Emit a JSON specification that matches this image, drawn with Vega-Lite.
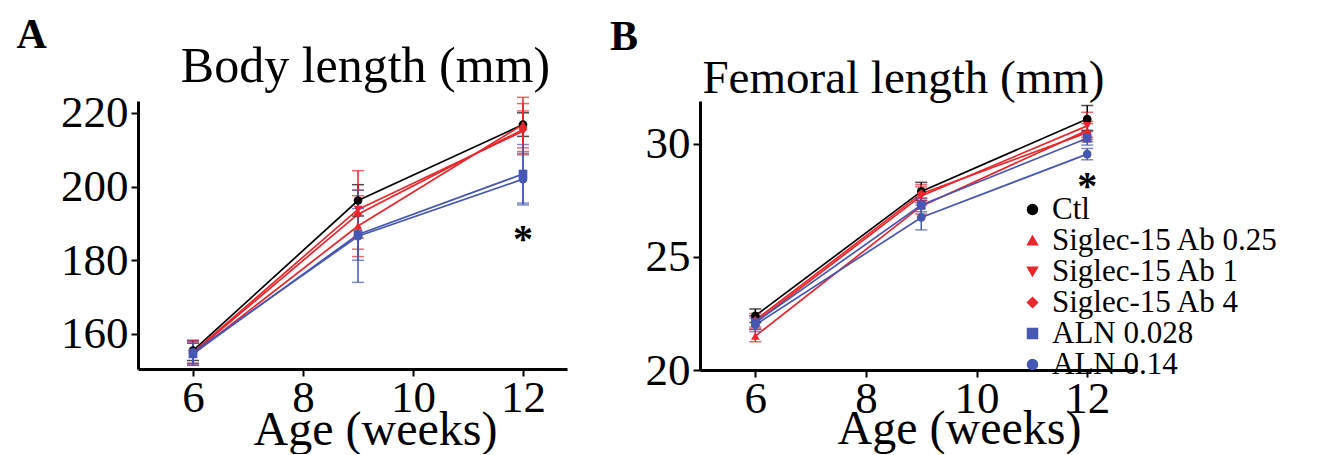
{
  "$schema": "https://vega.github.io/schema/vega-lite/v6.json",
  "background": "white",
  "padding": {"left": 16, "top": 14, "right": 0, "bottom": 0},
  "config": {
    "font": "Liberation Serif",
    "view": {"stroke": null},
    "axis": {
      "grid": false,
      "domainColor": "black",
      "domainWidth": 3,
      "tickColor": "black",
      "tickWidth": 2,
      "tickSize": 7,
      "labelFont": "Liberation Serif",
      "labelFontSize": 45,
      "labelColor": "black",
      "labelPadding": 3,
      "labelFlush": false,
      "labelOverlap": false,
      "titleFont": "Liberation Serif",
      "titleFontWeight": "normal",
      "titleColor": "black"
    },
    "axisX": {"labelPadding": -1},
    "legend": {
      "labelFont": "Liberation Serif",
      "labelFontSize": 31,
      "labelColor": "black",
      "labelLimit": 400,
      "rowPadding": -6,
      "symbolOpacity": 1
    }
  },
  "datasets": {
    "body": [
      {"group": "Ctl", "week": 6, "mean": 155.5, "lo": 152.8, "hi": 158.2},
      {"group": "Ctl", "week": 9, "mean": 196.2, "lo": 192.0, "hi": 200.5},
      {"group": "Ctl", "week": 12, "mean": 216.8, "lo": 213.6, "hi": 220.0},
      {"group": "Siglec-15 Ab 0.25", "week": 6, "mean": 154.5, "lo": 151.5, "hi": 157.5},
      {"group": "Siglec-15 Ab 0.25", "week": 9, "mean": 189.3, "lo": 181.0, "hi": 197.5},
      {"group": "Siglec-15 Ab 0.25", "week": 12, "mean": 216.8, "lo": 209.5, "hi": 224.2},
      {"group": "Siglec-15 Ab 1", "week": 6, "mean": 155.0, "lo": 152.0, "hi": 158.3},
      {"group": "Siglec-15 Ab 1", "week": 9, "mean": 193.8, "lo": 183.0, "hi": 204.3},
      {"group": "Siglec-15 Ab 1", "week": 12, "mean": 215.0, "lo": 208.6, "hi": 222.5},
      {"group": "Siglec-15 Ab 4", "week": 6, "mean": 154.8, "lo": 152.0, "hi": 157.5},
      {"group": "Siglec-15 Ab 4", "week": 9, "mean": 192.5, "lo": 186.0, "hi": 199.0},
      {"group": "Siglec-15 Ab 4", "week": 12, "mean": 215.5, "lo": 210.5, "hi": 220.5},
      {"group": "ALN 0.028", "week": 6, "mean": 154.6, "lo": 151.5, "hi": 157.5},
      {"group": "ALN 0.028", "week": 9, "mean": 187.0, "lo": 180.0, "hi": 194.0},
      {"group": "ALN 0.028", "week": 12, "mean": 203.4, "lo": 195.5, "hi": 211.4},
      {"group": "ALN 0.14", "week": 6, "mean": 155.0, "lo": 152.0, "hi": 158.0},
      {"group": "ALN 0.14", "week": 9, "mean": 186.5, "lo": 174.0, "hi": 199.0},
      {"group": "ALN 0.14", "week": 12, "mean": 202.0, "lo": 195.0, "hi": 209.0}
    ],
    "femur": [
      {"group": "Ctl", "week": 6, "mean": 22.4, "lo": 22.1, "hi": 22.7},
      {"group": "Ctl", "week": 9, "mean": 27.9, "lo": 27.5, "hi": 28.3},
      {"group": "Ctl", "week": 12, "mean": 31.1, "lo": 30.6, "hi": 31.7},
      {"group": "Siglec-15 Ab 0.25", "week": 6, "mean": 21.5, "lo": 21.25, "hi": 21.8},
      {"group": "Siglec-15 Ab 0.25", "week": 9, "mean": 27.25, "lo": 26.9, "hi": 27.6},
      {"group": "Siglec-15 Ab 0.25", "week": 12, "mean": 30.6, "lo": 30.2, "hi": 31.0},
      {"group": "Siglec-15 Ab 1", "week": 6, "mean": 22.1, "lo": 21.8, "hi": 22.4},
      {"group": "Siglec-15 Ab 1", "week": 9, "mean": 27.7, "lo": 27.4, "hi": 28.1},
      {"group": "Siglec-15 Ab 1", "week": 12, "mean": 30.8, "lo": 30.3, "hi": 31.4},
      {"group": "Siglec-15 Ab 4", "week": 6, "mean": 22.2, "lo": 21.9, "hi": 22.5},
      {"group": "Siglec-15 Ab 4", "week": 9, "mean": 27.8, "lo": 27.5, "hi": 28.2},
      {"group": "Siglec-15 Ab 4", "week": 12, "mean": 30.5, "lo": 30.1, "hi": 30.9},
      {"group": "ALN 0.028", "week": 6, "mean": 22.1, "lo": 21.8, "hi": 22.4},
      {"group": "ALN 0.028", "week": 9, "mean": 27.3, "lo": 27.0, "hi": 27.6},
      {"group": "ALN 0.028", "week": 12, "mean": 30.25, "lo": 29.95, "hi": 30.55},
      {"group": "ALN 0.14", "week": 6, "mean": 22.0, "lo": 21.7, "hi": 22.3},
      {"group": "ALN 0.14", "week": 9, "mean": 26.75, "lo": 26.2, "hi": 27.3},
      {"group": "ALN 0.14", "week": 12, "mean": 29.55, "lo": 29.3, "hi": 29.8}
    ]
  },
  "bounds": "flush",
  "spacing": 133,
  "resolve": {"legend": {"color": "independent", "shape": "independent"}},
  "hconcat": [
    {
      "width": 429,
      "height": 268,
      "title": {"text": "A", "anchor": "start", "frame": "bounds", "font": "Liberation Serif", "fontSize": 42, "fontWeight": "bold", "color": "black", "dx": -44, "offset": -16},
      "encoding": {
        "x": {
          "field": "week", "type": "quantitative",
          "scale": {"domain": [5, 12.8], "nice": false, "zero": false},
          "axis": {"values": [6, 8, 10, 12], "title": "Age (weeks)", "titleFontSize": 48, "titleX": 237, "titleY": 75, "titleAlign": "center", "titleBaseline": "alphabetic"}
        }
      },
      "layer": [
        {
          "data": {"name": "body"},
          "mark": {"type": "line", "strokeWidth": 1.7},
          "encoding": {
            "y": {
              "field": "mean", "type": "quantitative", "title": "Body length (mm)",
              "scale": {"domain": [150.5, 223.2], "nice": false, "zero": false},
              "axis": {"values": [160, 180, 200, 220], "title": "Body length (mm)", "titleAngle": 0, "titleFontSize": 50, "titleX": 227, "titleY": -20, "titleAlign": "center", "titleBaseline": "alphabetic"}
            },
            "color": {
              "field": "group", "type": "nominal",
              "scale": {"domain": ["Ctl", "Siglec-15 Ab 0.25", "Siglec-15 Ab 1", "Siglec-15 Ab 4", "ALN 0.028", "ALN 0.14"], "range": ["#000000", "#e8262b", "#e8262b", "#e8262b", "#4657b3", "#4657b3"]},
              "legend": null
            }
          }
        },
        {
          "data": {"name": "body"},
          "mark": {"type": "errorbar", "ticks": {"size": 12}, "thickness": 1.5},
          "encoding": {
            "y": {"field": "lo", "type": "quantitative", "title": "Body length (mm)"},
            "y2": {"field": "hi"},
            "color": {"field": "group", "type": "nominal", "legend": null}
          }
        },
        {
          "data": {"name": "body"},
          "mark": {"type": "point", "filled": true, "size": 75, "opacity": 1},
          "encoding": {
            "y": {"field": "mean", "type": "quantitative", "title": "Body length (mm)"},
            "color": {"field": "group", "type": "nominal", "legend": null},
            "shape": {
              "field": "group", "type": "nominal",
              "scale": {"domain": ["Ctl", "Siglec-15 Ab 0.25", "Siglec-15 Ab 1", "Siglec-15 Ab 4", "ALN 0.028", "ALN 0.14"], "range": ["circle", "triangle-up", "triangle-down", "diamond", "square", "circle"]},
              "legend": null
            }
          }
        },
        {
          "data": {"values": [{"week": 12, "v": 187.6, "t": "*"}]},
          "mark": {"type": "text", "font": "Liberation Serif", "fontSize": 40, "fontWeight": "bold", "baseline": "alphabetic", "dy": 20, "color": "black"},
          "encoding": {
            "y": {"field": "v", "type": "quantitative", "title": "Body length (mm)"},
            "text": {"field": "t"}
          }
        }
      ]
    },
    {
      "width": 437,
      "height": 269,
      "title": {"text": "B", "anchor": "start", "frame": "bounds", "font": "Liberation Serif", "fontSize": 42, "fontWeight": "bold", "color": "black", "dx": -35, "offset": -5},
      "encoding": {
        "x": {
          "field": "week", "type": "quantitative",
          "scale": {"domain": [5, 12.9], "nice": false, "zero": false},
          "axis": {"values": [6, 8, 10, 12], "title": "Age (weeks)", "titleFontSize": 48, "titleX": 259, "titleY": 73, "titleAlign": "center", "titleBaseline": "alphabetic"}
        }
      },
      "layer": [
        {
          "data": {"name": "femur"},
          "mark": {"type": "line", "strokeWidth": 1.7},
          "encoding": {
            "y": {
              "field": "mean", "type": "quantitative", "title": "Femoral length (mm)",
              "scale": {"domain": [20, 31.9], "nice": false, "zero": false},
              "axis": {"values": [20, 25, 30], "title": "Femoral length (mm)", "titleAngle": 0, "titleFontSize": 47, "titleX": 203, "titleY": -9, "titleAlign": "center", "titleBaseline": "alphabetic"}
            },
            "color": {
              "field": "group", "type": "nominal",
              "legend": {"title": null, "orient": "none", "legendX": 317, "legendY": 93, "padding": 0, "labelFont": "Liberation Serif", "labelFontSize": 31, "labelColor": "black", "labelLimit": 400, "labelOffset": 4, "symbolSize": 100, "rowPadding": -6, "symbolOpacity": 1}
            }
          }
        },
        {
          "data": {"name": "femur"},
          "mark": {"type": "errorbar", "ticks": {"size": 12}, "thickness": 1.5},
          "encoding": {
            "y": {"field": "lo", "type": "quantitative", "title": "Femoral length (mm)"},
            "y2": {"field": "hi"},
            "color": {
              "field": "group", "type": "nominal",
              "legend": {"title": null, "orient": "none", "legendX": 317, "legendY": 93, "padding": 0, "labelFont": "Liberation Serif", "labelFontSize": 31, "labelColor": "black", "labelLimit": 400, "labelOffset": 4, "symbolSize": 100, "rowPadding": -6, "symbolOpacity": 1}
            }
          }
        },
        {
          "data": {"name": "femur"},
          "mark": {"type": "point", "filled": true, "size": 75, "opacity": 1},
          "encoding": {
            "y": {"field": "mean", "type": "quantitative", "title": "Femoral length (mm)"},
            "color": {
              "field": "group", "type": "nominal",
              "legend": {"title": null, "orient": "none", "legendX": 317, "legendY": 93, "padding": 0, "labelFont": "Liberation Serif", "labelFontSize": 31, "labelColor": "black", "labelLimit": 400, "labelOffset": 4, "symbolSize": 100, "rowPadding": -6, "symbolOpacity": 1}
            },
            "shape": {
              "field": "group", "type": "nominal",
              "legend": {"title": null, "orient": "none", "legendX": 317, "legendY": 93, "padding": 0, "labelFont": "Liberation Serif", "labelFontSize": 31, "labelColor": "black", "labelLimit": 400, "labelOffset": 4, "symbolSize": 100, "rowPadding": -6, "symbolOpacity": 1}
            }
          }
        },
        {
          "data": {"values": [{"week": 12, "v": 28.45, "t": "*"}]},
          "mark": {"type": "text", "font": "Liberation Serif", "fontSize": 40, "fontWeight": "bold", "baseline": "alphabetic", "dy": 20, "color": "black"},
          "encoding": {
            "y": {"field": "v", "type": "quantitative", "title": "Femoral length (mm)"},
            "text": {"field": "t"}
          }
        }
      ]
    }
  ]
}
